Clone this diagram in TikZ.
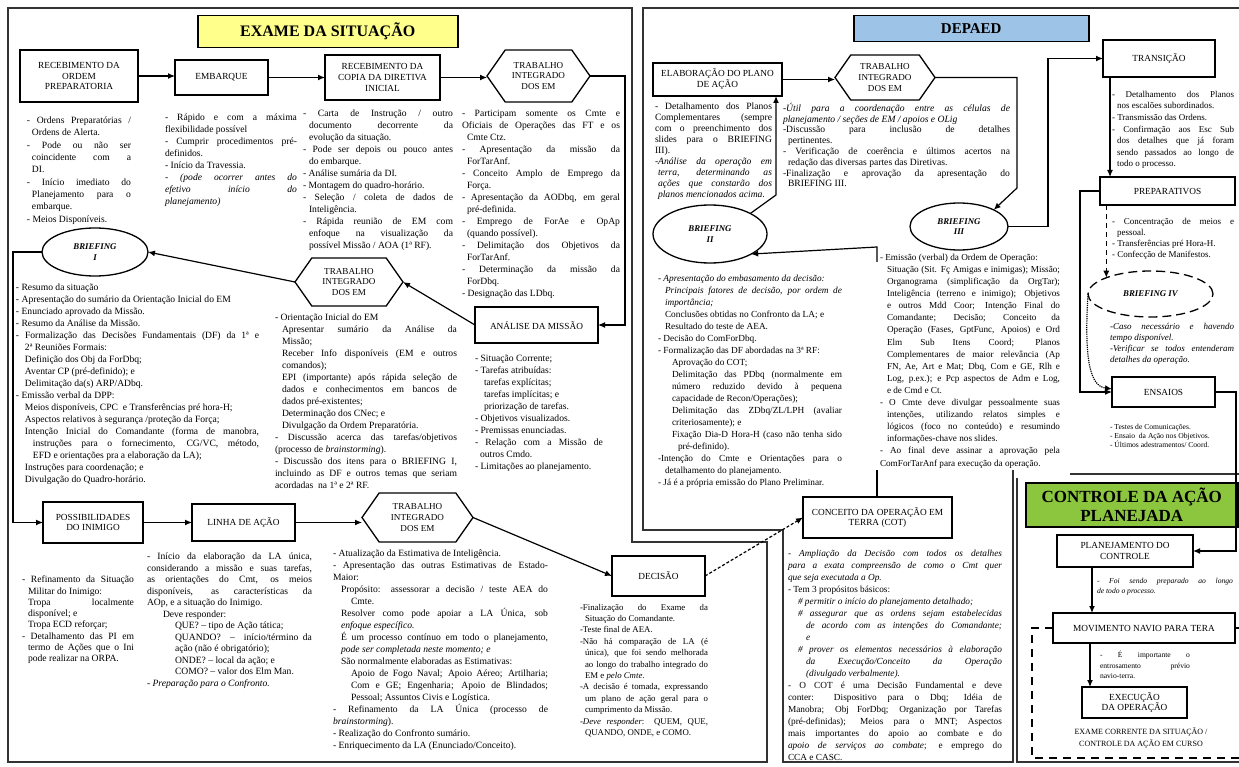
\documentclass[tikz,border=0pt]{standalone}
\usepackage{fontspec}
\setmainfont{Liberation Serif}
\usetikzlibrary{shapes.geometric,shapes.symbols,arrows.meta,calc}
\definecolor{ybg}{HTML}{FFFF8C}
\definecolor{bbg}{HTML}{9DC3E6}
\definecolor{gbg}{HTML}{8CC63F}
\newcommand\jl{\linebreak}
\newcommand\ind[1]{\hspace*{#1pt}}
\tolerance=10000 \hbadness=10000 \hfuzz=3pt
\setlength\parindent{0pt}
\begin{document}
\begin{tikzpicture}[x=1pt,y=-1pt,
  frame/.style={line width=1.5pt, draw=black!80},
  box/.style={draw, line width=1.3pt, align=center, inner sep=1pt, outer sep=0pt, anchor=north west, font=\fontsize{9.3}{10.8}\selectfont},
  hexa/.style={draw, line width=1.3pt, shape=signal, signal to=east and west, signal pointer angle=110, align=center, inner sep=1pt, outer sep=0pt, font=\fontsize{9.1}{10.6}\selectfont},
  ell/.style={draw, line width=1.3pt, ellipse, align=center, inner sep=0pt, outer sep=0pt, font=\fontsize{8.8}{10.2}\selectfont\bfseries\itshape},
  ttl/.style={draw, line width=1.5pt, anchor=north west, inner sep=1pt, align=center},
  arr/.style={line width=1.2pt, -{Latex[length=7pt,width=6pt]}},
  ln/.style={line width=1.2pt},
  txt/.style={anchor=north west, inner sep=0pt, outer sep=0pt, align=justify, text width=#1pt},
]
\useasboundingbox (0,0) rectangle (1239,767);
\clip (0,0) rectangle (1239,767);
\fill[white] (0,0) rectangle (1239,767);

% ---------- frames ----------
\draw[frame] (8,8) -- (632,8) -- (632,542) -- (767,542) -- (767,762) -- (8,762) -- cycle;
\draw[frame] (1239,8) -- (643,8) -- (643,530) -- (783,530) -- (783,762) -- (1013,762) -- (1013,470);
\draw[frame] (1070,474) -- (1239,474);
\draw[frame] (1017,478) -- (1017,762) -- (1239,762);
\draw[line width=1.5pt, dash pattern=on 8pt off 6pt] (1053,628) -- (1032,628) -- (1032,758) -- (1239,758);
\draw[line width=1.5pt] (1235,628) -- (1239,628);

% ---------- titles ----------
\node[ttl, fill=ybg, minimum width=260, minimum height=32, font=\fontsize{16}{18}\selectfont\bfseries] (tEx) at (197,15) {EXAME DA SITUAÇÃO};
\node[ttl, fill=bbg, minimum width=235, minimum height=26, font=\fontsize{15}{17}\selectfont\bfseries] (tDe) at (853,15) {DEPAED};
\node[ttl, fill=gbg, minimum width=212, minimum height=44, font=\fontsize{17}{19}\selectfont\bfseries] (tCo) at (1025,482) {CONTROLE DA AÇÃO\\PLANEJADA};

% ---------- EXAME DA SITUACAO nodes ----------
\node[box, minimum width=118, minimum height=52] (rop) at (20,50) {RECEBIMENTO DA\\ORDEM\\PREPARATORIA};
\node[box, minimum width=93, minimum height=35] (emb) at (175,60) {EMBARQUE};
\node[box, minimum width=115, minimum height=45] (rcdi) at (325,55) {RECEBIMENTO DA\\COPIA DA DIRETIVA\\INICIAL};
\node[hexa, minimum width=103, minimum height=52] (hex1) at (538.5,76) {TRABALHO\\INTEGRADO\\DOS EM};
\node[box, minimum width=123, minimum height=36] (anm) at (475,307) {\\[-2pt]ANÁLISE DA MISSÃO};
\node[hexa, minimum width=108, minimum height=48] (hex2) at (349,282) {TRABALHO\\INTEGRADO\\DOS EM};
\node[ell, minimum width=106, minimum height=48] (br1) at (95,252) {BRIEFING\\I};
\node[box, minimum width=100, minimum height=41] (pin) at (43,502) {POSSIBILIDADES\\DO INIMIGO};
\node[box, minimum width=103, minimum height=37] (lda) at (192,504) {LINHA DE AÇÃO};
\node[hexa, minimum width=111, minimum height=49] (hex3) at (417.5,517.5) {TRABALHO\\INTEGRADO\\DOS EM};
\node[box, minimum width=93, minimum height=40] (dec) at (612,556) {DECISÃO};

% ---------- DEPAED nodes ----------
\node[box, minimum width=129, minimum height=33] (elab) at (653,63) {ELABORAÇÃO DO PLANO\\DE AÇÃO};
\node[hexa, minimum width=100, minimum height=45] (hex4) at (885,77.5) {TRABALHO\\INTEGRADO\\DOS EM};
\node[ell, minimum width=114, minimum height=58] (br2) at (710,234) {BRIEFING\\II};
\node[ell, minimum width=98, minimum height=47] (br3) at (959,226.5) {BRIEFING\\III};
\node[box, minimum width=112, minimum height=37] (tra) at (1103,40) {TRANSIÇÃO};
\node[box, minimum width=135, minimum height=28] (prep) at (1100,177) {PREPARATIVOS};
\node[ell, dashed, dash pattern=on 9pt off 5pt, minimum width=125, minimum height=46] (br4) at (1150.5,294) {BRIEFING IV};
\node[box, minimum width=103, minimum height=30] (ens) at (1112,377) {ENSAIOS};
\node[box, minimum width=149, minimum height=41] (cot) at (803,497) {CONCEITO DA OPERAÇÃO EM\\TERRA (COT)};

% ---------- CONTROLE nodes ----------
\node[box, minimum width=136, minimum height=32] (plc) at (1057,535) {PLANEJAMENTO DO\\CONTROLE};
\node[box, line width=1.6pt, minimum width=182, minimum height=30] (mnt) at (1053,613) {MOVIMENTO NAVIO PARA TERA};
\node[box, minimum width=105, minimum height=31] (exe) at (1082,687) {EXECUÇÃO\\DA OPERAÇÃO};

% ---------- helper coordinates ----------
\coordinate (k1) at (625,76);
\coordinate (k2) at (13,252);
\coordinate (k3) at (1017,77.5);
\coordinate (k4) at (1017,188);
\coordinate (k5) at (1048,226.5);
\coordinate (k6) at (1080,191);
\coordinate (k7) at (1236,392);
\coordinate (k8) at (776,195);
\coordinate (k9) at (877,262);
\coordinate (k10) at (877,247);
\coordinate (k11) at (877,470);

% ---------- connectors ----------
\draw[arr] (rop.east) -- (rop.east -| emb.west);
\draw[arr] (emb.east) -- (emb.east -| rcdi.west);
\draw[arr] (rcdi.east) -- (rcdi.east -| hex1.west);
\draw[arr] (hex1.east) -- (k1) |- (anm.east);
\draw[arr] (anm.west) -- (hex2.east);
\draw[arr] (hex2.west) -- (br1.east);
\draw[arr] (br1.west) -- (k2) |- (pin.west);
\draw[arr] (pin.east) -- (pin.east -| lda.west);
\draw[arr] (lda.east) -- (lda.east -| hex3.west);
\draw[arr] (hex3.east) -- (dec.west);
\draw[arr, densely dashed] (dec.east) -- (cot.west);
\draw[arr] (elab.east) -- (elab.east -| hex4.west);
\draw[arr] (hex4.east) -- (k3) -- (k4) -- (br3.north east);
\draw[arr] (br3.east) -- (k5) |- (tra.west);
\draw[arr] ([xshift=7pt]tra.south west) -- ([xshift=10pt]prep.north west);
\draw[arr] (prep.west) -- (k6) |- (ens.west);
\draw[arr, dashed, dash pattern=on 5pt off 4pt] (prep.south west -| br4.north west) -- (br4.north west);
\draw[arr, densely dotted] (br4.west) .. controls (1084,360) and (1090,386) .. ([yshift=3pt]ens.west);
\draw[arr] (ens.east) -- (k7) |- (plc.east);
\draw[arr] ([xshift=35pt]plc.south west) -- ([xshift=39pt]mnt.north west);
\draw[arr] ([xshift=37pt]mnt.south west) -- ([xshift=8pt]exe.north west);
\draw[arr] (br2.north east) -- (k8) -- (k8 |- elab.south);
\draw[arr] (k9) -- (k10) -- (br2.-26);
\draw[ln] (k11) -- (k11 |- cot.north);

% ---------- text blocks: EXAME ----------
\node[txt=104, font=\fontsize{9.6}{12.3}\selectfont] (tA) at (27,117) {%
- Ordens Preparatórias /\jl \ind{5}Ordens de Alerta.\par
- Pode ou não ser\jl \ind{5}coincidente com a\jl \ind{5}DI.\par
- Início imediato do\jl \ind{5}Planejamento para o\jl \ind{5}embarque.\par
- Meios Disponíveis.\par};

\node[txt=132, font=\fontsize{9.6}{12}\selectfont] (tB) at (165,114) {%
- Rápido e com a máxima\jl flexibilidade possível\par
- Cumprir procedimentos pré-\jl definidos.\par
- Início da Travessia.\par
- \textit{(pode ocorrer antes do\jl efetivo início do\jl planejamento)}\par};

\node[txt=150, font=\fontsize{9.6}{12}\selectfont] (tC) at (303,110) {%
- Carta de Instrução / outro\jl \ind{6}documento decorrente da\jl \ind{6}evolução da situação.\par
- Pode ser depois ou pouco antes\jl \ind{6}do embarque.\par
- Análise sumária da DI.\par
- Montagem do quadro-horário.\par
- Seleção / coleta de dados de\jl \ind{6}Inteligência.\par
- Rápida reunião de EM com\jl \ind{6}enfoque na visualização da\jl \ind{6}possível Missão / AOA (1ª RF).\par};

\node[txt=158, font=\fontsize{9.6}{12}\selectfont] (tD) at (462,110) {%
- Participam somente os Cmte e\jl Oficiais de Operações das FT e os\jl \ind{5}Cmte Ctz.\par
- Apresentação da missão da\jl \ind{5}ForTarAnf.\par
- Conceito Amplo de Emprego da\jl \ind{5}Força.\par
- Apresentação da AODbq, em geral\jl \ind{5}pré-definida.\par
- Emprego de ForAe e OpAp\jl \ind{5}(quando possível).\par
- Delimitação dos Objetivos da\jl \ind{5}ForTarAnf.\par
- Determinação da missão da\jl \ind{5}ForDbq.\par
- Designação das LDbq.\par};

\node[txt=128, font=\fontsize{9.6}{12}\selectfont] (tE) at (475,355) {%
- Situação Corrente;\par
- Tarefas atribuídas:\par
\ind{9}tarefas explícitas;\par
\ind{9}tarefas implícitas; e\par
\ind{9}priorização de tarefas.\par
- Objetivos visualizados.\par
- Premissas enunciadas.\par
- Relação com a Missão de\jl \ind{5}outros Cmdo.\par
- Limitações ao planejamento.\par};

\node[txt=182, font=\fontsize{9.6}{12}\selectfont] (tF) at (275,314) {%
- Orientação Inicial do EM\par
\ind{7}Apresentar sumário da Análise da\jl \ind{7}Missão;\par
\ind{7}Receber Info disponíveis (EM e outros\jl \ind{7}comandos);\par
\ind{7}EPI (importante) após rápida seleção de\jl \ind{7}dados e conhecimentos em bancos de\jl \ind{7}dados pré-existentes;\par
\ind{7}Determinação dos CNec; e\par
\ind{7}Divulgação da Ordem Preparatória.\par
- Discussão acerca das tarefas/objetivos\jl (processo de \textit{brainstorming}).\par
- Discussão dos itens para o BRIEFING I,\jl incluindo as DF e outros temas que seriam\jl acordadas \ na 1ª e 2ª RF.\par};

\node[txt=243, font=\fontsize{9.6}{12}\selectfont] (tG) at (16,284) {%
- Resumo da situação\par
- Apresentação do sumário da Orientação Inicial do EM\par
- Enunciado aprovado da Missão.\par
- Resumo da Análise da Missão.\par
- Formalização das Decisões Fundamentais (DF) da 1ª e\jl \ind{9}2ª Reuniões Formais:\par
\ind{9}Definição dos Obj da ForDbq;\par
\ind{9}Aventar CP (pré-definido); e\par
\ind{9}Delimitação da(s) ARP/ADbq.\par
- Emissão verbal da DPP:\par
\ind{9}Meios disponíveis, CPC \ e Transferências pré hora-H;\par
\ind{9}Aspectos relativos à segurança /proteção da Força;\par
\ind{9}Intenção Inicial do Comandante (forma de manobra,\jl \ind{17}instruções para o fornecimento, CG/VC, método,\jl \ind{17}EFD e orientações pra a elaboração da LA);\par
\ind{9}Instruções para coordenação; e\par
\ind{9}Divulgação do Quadro-horário.\par};

\node[txt=112, font=\fontsize{9.6}{11.3}\selectfont] (tH) at (22,576) {%
- Refinamento da Situação\jl \ind{6}Militar do Inimigo:\par
\ind{6}Tropa \hfill localmente\jl \ind{6}disponível; e\par
\ind{6}Tropa ECD reforçar;\par
- Detalhamento das PI em\jl \ind{6}termo de Ações que o Ini\jl \ind{6}pode realizar na ORPA.\par};

\node[txt=165, font=\fontsize{9.6}{11.5}\selectfont] (tI) at (147,553) {%
- Início da elaboração da LA única,\jl considerando a missão e suas tarefas,\jl as orientações do Cmt, os meios\jl disponíveis, as características da\jl AOp, e a situação do Inimigo.\par
\ind{16}Deve responder:\par
\ind{28}QUE? – tipo de Ação tática;\par
\ind{28}QUANDO? \ – \ início/término da\jl \ind{28}ação (não é obrigatório);\par
\ind{28}ONDE? – local da ação; e\par
\ind{28}COMO? – valor dos Elm Man.\par
- \textit{Preparação para o Confronto.}\par};

\node[txt=215, font=\fontsize{9.6}{12}\selectfont] (tJ) at (333,550) {%
- Atualização da Estimativa de Inteligência.\par
- Apresentação das outras Estimativas de Estado-\jl Maior:\par
\ind{8}Propósito: assessorar a decisão / teste AEA do\jl \ind{18}Cmte.\par
\ind{8}Resolver como pode apoiar a LA Única, sob\jl \ind{8}\textit{enfoque específico.}\par
\ind{8}É um processo contínuo em todo o planejamento,\jl \ind{8}\textit{pode ser completada neste momento; e}\par
\ind{8}São normalmente elaboradas as Estimativas:\par
\ind{18}Apoio de Fogo Naval; Apoio Aéreo; Artilharia;\jl \ind{18}Com e GE; Engenharia; Apoio de Blindados;\jl \ind{18}Pessoal; Assuntos Civis e Logística.\par
- Refinamento da LA Única (processo de\jl \textit{brainstorming}).\par
- Realização do Confronto sumário.\par
- Enriquecimento da LA (Enunciado/Conceito).\par};

\node[txt=128, font=\fontsize{8.8}{11.4}\selectfont] (tT) at (580,604) {%
-Finalização \ do \ Exame \ da\jl \ind{5}Situação do Comandante.\par
-Teste final de AEA.\par
-Não há comparação de LA (é\jl \ind{5}única), que foi sendo melhorada\jl \ind{5}ao longo do trabalho integrado do\jl \ind{5}EM e \textit{pelo Cmte}.\par
-A decisão é tomada, expressando\jl \ind{5}um plano de ação geral para o\jl \ind{5}cumprimento da Missão.\par
-\textit{Deve responder}: QUEM, QUE,\jl \ind{5}QUANDO, ONDE, e COMO.\par};

% ---------- text blocks: DEPAED ----------
\node[txt=117, font=\fontsize{9.6}{11}\selectfont] (tK) at (655,103) {%
- Detalhamento dos Planos\jl Complementares (sempre\jl com o preenchimento dos\jl slides para o BRIEFING\jl III).\par
\textit{-Análise da operação em\jl \ind{3}terra, determinando as\jl \ind{3}ações que constarão dos\jl \ind{3}planos mencionados acima.}\par};

\node[txt=227, font=\fontsize{9.6}{10.8}\selectfont] (tL) at (783,103) {%
\textit{-Útil para a coordenação entre as células de\jl planejamento / seções de EM / apoios e OLig}\par
-Discussão \ para \ inclusão \ de \ detalhes\jl \ind{5}pertinentes.\par
- Verificação de coerência e últimos acertos na\jl \ind{5}redação das diversas partes das Diretivas.\par
-Finalização e aprovação da apresentação do\jl \ind{5}BRIEFING III.\par};

\node[txt=184, font=\fontsize{9.3}{12}\selectfont] (tN) at (658,275) {%
- \textit{Apresentação do embasamento da decisão:}\par
\ind{7}\textit{Principais fatores de decisão, por ordem de}\jl \ind{7}\textit{importância;}\par
\ind{7}Conclusões obtidas no Confronto da LA; e\par
\ind{7}Resultado do teste de AEA.\par
- Decisão do ComForDbq.\par
- Formalização das DF abordadas na 3ª RF:\par
\ind{14}Aprovação do COT;\par
\ind{14}Delimitação das PDbq (normalmente em\jl \ind{14}número \ reduzido \ devido \ à \ pequena\jl \ind{14}capacidade de Recon/Operações);\par
\ind{14}Delimitação das ZDbq/ZL/LPH (avaliar\jl \ind{14}criteriosamente); e\par
\ind{14}Fixação Dia-D Hora-H (caso não tenha sido\jl \ind{20}pré-definido).\par
-Intenção do Cmte e Orientações para o\jl \ind{7}detalhamento do planejamento.\par
- Já é a própria emissão do Plano Preliminar.\par};

\node[txt=180, font=\fontsize{9.2}{12.1}\selectfont] (tM) at (880,254) {%
- Emissão (verbal) da Ordem de Operação:\par
\ind{7}Situação (Sit. Fç Amigas e inimigas); Missão;\jl
\ind{7}Organograma (simplificação da OrgTar);\jl
\ind{7}Inteligência (terreno e inimigo); Objetivos\jl
\ind{7}e outros Mdd Coor; Intenção Final do\jl
\ind{7}Comandante; \ Decisão; \ Conceito \ da\jl
\ind{7}Operação (Fases, GptFunc, Apoios) e Ord\jl
\ind{7}Elm \ Sub \ Itens \ Coord; \ Planos\jl
\ind{7}Complementares de maior relevância (Ap\jl
\ind{7}FN, Ae, Art e Mat; Dbq, Com e GE, Rlh e\jl
\ind{7}Log, p.ex.); e Pcp aspectos de Adm e Log,\jl
\ind{7}e de Cmd e Ct.\par
- O Cmte deve divulgar pessoalmente suas\jl \ind{7}intenções, utilizando relatos simples e\jl \ind{7}lógicos (foco no conteúdo) e resumindo\jl \ind{7}informações-chave nos slides.\par
- Ao final deve assinar a aprovação pela\jl ComForTarAnf para execução da operação.\par};

\node[txt=122, font=\fontsize{9}{11.6}\selectfont] (tO) at (1112,91) {%
- Detalhamento dos Planos\jl \ind{5}nos escalões subordinados.\par
- Transmissão das Ordens.\par
- Confirmação aos Esc Sub\jl \ind{5}dos detalhes que já foram\jl \ind{5}sendo passados ao longo de\jl \ind{5}todo o processo.\par};

\node[txt=122, font=\fontsize{9}{11}\selectfont] (tP) at (1112,218) {%
- Concentração de meios e\jl \ind{5}pessoal.\par
- Transferências pré Hora-H.\par
- Confecção de Manifestos.\par};

\node[txt=124, font=\fontsize{9}{11}\selectfont\itshape] (tQ) at (1110,323) {%
-Caso \ necessário \ e \ havendo\jl tempo disponível.\par
-Verificar se todos entenderam\jl detalhes da operação.\par};

\node[txt=125, font=\fontsize{7.6}{9.3}\selectfont] (tR) at (1110,424) {%
- Testes de Comunicações.\par
- Ensaio \ da Ação nos Objetivos.\par
- Últimos adestramentos/ Coord.\par};

\node[txt=214, font=\fontsize{9.3}{12}\selectfont] (tS) at (788,550) {%
- \textit{Ampliação da Decisão com todos os detalhes\jl para a exata compreensão de como o Cmt quer\jl que seja executada a Op.}\par
- Tem 3 propósitos básicos:\par
\ind{10}\textit{\# permitir o início do planejamento detalhado;}\par
\ind{10}\textit{\# assegurar que as ordens sejam estabelecidas\jl \ind{18}de acordo com as intenções do Comandante;\jl \ind{18}e}\par
\ind{10}\textit{\# prover os elementos necessários à elaboração\jl \ind{18}da \ Execução/Conceito \ da \ Operação\jl \ind{18}(divulgado verbalmente).}\par
- O COT é uma Decisão Fundamental e deve\jl conter: Dispositivo para o Dbq; Idéia de\jl Manobra; Obj ForDbq; Organização por Tarefas\jl (pré-definidas); Meios para o MNT; Aspectos\jl mais importantes do apoio ao combate e do\jl \textit{apoio de serviços ao combate}; e emprego do\jl CCA e CASC.\par};

% ---------- text blocks: CONTROLE ----------
\node[txt=136, font=\fontsize{7.6}{10}\selectfont\itshape] (tU) at (1097,578) {%
- Foi sendo preparado ao longo\jl de todo o processo.\par};
\node[txt=90, font=\fontsize{7.6}{10.5}\selectfont] (tV) at (1100,651) {%
- \ É \ importante \ o\jl entrosamento \ prévio\jl navio-terra.\par};
\node[anchor=center, align=center, inner sep=0pt, font=\fontsize{8}{11.5}\selectfont] (tW) at (1141,738) {EXAME CORRENTE DA SITUAÇÃO /\\CONTROLE DA AÇÃO EM CURSO};
\end{tikzpicture}
\end{document}
